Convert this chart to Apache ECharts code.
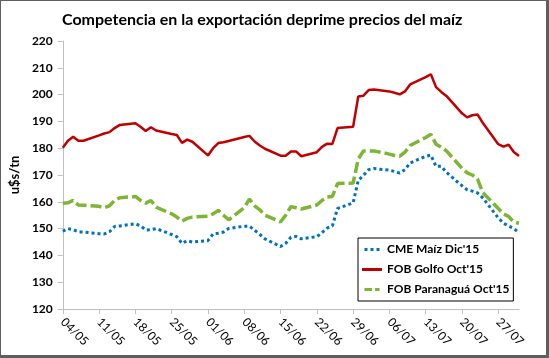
<!DOCTYPE html>
<html><head><meta charset="utf-8">
<script src="https://cdn.jsdelivr.net/npm/echarts@6/dist/echarts.min.js"></script>
<style>
html,body{margin:0;padding:0;background:#fff;}
#wrap{position:relative;width:549px;height:358px;}
#chart{position:absolute;left:0;top:0;width:549px;height:358px;}
#frame{position:absolute;left:0;top:0;width:549px;height:358px;box-sizing:border-box;border-style:solid;border-color:#5f5f5f;border-width:1px 3px 3px 1px;pointer-events:none;}
</style></head>
<body><div id="wrap"><div id="chart"></div><div id="frame"></div></div>
<script>
const dates = [
 "04/05","05/05","06/05","07/05","08/05","11/05","12/05","13/05","14/05","15/05",
 "18/05","19/05","20/05","21/05","22/05","25/05","26/05","27/05","28/05","29/05",
 "01/06","02/06","03/06","04/06","05/06","08/06","09/06","10/06","11/06","12/06",
 "15/06","16/06","17/06","18/06","19/06","22/06","23/06","24/06","25/06","26/06",
 "29/06","30/06","01/07","02/07","03/07","06/07","07/07","08/07","09/07","10/07",
 "13/07","14/07","15/07","16/07","17/07","20/07","21/07","22/07","23/07","24/07",
 "27/07","28/07","29/07","30/07","31/07"
];
const cmeMaiz = [
 149, 150, 149.6, 148.8, 148.7, 148.1, 148, 148.8, 150.8, 151,
 151.8, 151, 149.5, 149.6, 150, 147.8, 147, 144.5, 145.5, 145,
 145.5, 148, 148.3, 148.7, 150, 150.9, 150.9, 149.4, 147.8, 146.2,
 143.3, 144.5, 146.8, 147.1, 146.2, 147, 148.5, 150.2, 151, 157.5,
 159.6, 168, 169.9, 172, 172.4, 171.8, 171.3, 170.7, 172, 174.5,
 177, 177.4, 173.2, 173.3, 171, 166, 164.5, 164, 163.3, 161.5,
 154, 152, 151, 150, 148.5
];
const fobGolfo = [
 180.2, 182.8, 184.3, 182.8, 182.8, 184.8, 185.5, 186, 187.5, 188.7,
 189.3, 188, 186.4, 187.8, 186.6, 185.3, 184.9, 182, 183.2, 182.4,
 177.3, 180, 181.9, 182.2, 182.7, 184.2, 184.6, 182.5, 181, 179.8,
 177.2, 177.2, 178.8, 178.8, 177, 178.5, 180.5, 181.7, 181.6, 187.5,
 188, 199.3, 199.6, 201.7, 201.9, 201.2, 200.7, 200.1, 201.2, 203.8,
 206.5, 207.6, 202.8, 201, 199.5, 193, 191.5, 192.3, 192.6, 189.5,
 181.5, 180.6, 181.3, 178.6, 177.1
];
const fobParanagua = [
 159.5, 159.6, 160.5, 158.8, 158.7, 158.3, 157.8, 158.5, 160.5, 161.5,
 162, 160.5, 159.5, 160.5, 158, 155.5, 154.3, 152.8, 153.8, 154.3,
 154.6, 155.5, 156.8, 155, 153.3, 157.8, 161, 158.5, 157, 155,
 152.5, 155, 158.2, 157.8, 157.3, 158.8, 160.5, 161.8, 162, 166.8,
 167, 176, 179, 179, 179, 177.8, 177.3, 177, 178.5, 181,
 184, 185.2, 181.5, 180.4, 179, 172.5, 170.8, 170, 168.5, 163.5,
 157.5, 155.5, 154.5, 152.5, 152
];
const tickLabels = ["04/05","11/05","18/05","25/05","01/06","08/06","15/06","22/06","29/06","06/07","13/07","20/07","27/07"];
const seriesNames = ["CME Maíz Dic'15","FOB Golfo Oct'15","FOB Paranaguá Oct'15"];
const lastDate = "31/07";

function dayOffset(s){
  const [d,m] = s.split('/').map(Number);
  const base = Date.UTC(2015,4,4);
  return Math.round((Date.UTC(2015,m-1,d)-base)/86400000);
}
const tickDays = tickLabels.map(dayOffset);
const toPts = vals => dates.map((d,i)=>[dayOffset(d), vals[i]]);
const FONT = 'Lato';
const BLUE = '#0070C0', RED = '#C00000', GREEN = '#7DB534';

const chart = echarts.init(document.getElementById('chart'), null, {renderer:'canvas'});
chart.setOption({
  backgroundColor:'#fff',
  animation:false,
  title:{text:'Competencia en la exportación deprime precios del maíz', left:57, top:7,
    textStyle:{fontFamily:FONT, fontWeight:'bold', fontSize:16, color:'#000'}},
  grid:{left:61, right:30, top:41, bottom:49, containLabel:false},
  legend:{orient:'vertical', left:358, top:238, itemWidth:20, itemHeight:3, itemGap:5,
    padding:[4,4,4,4], backgroundColor:'#fff', borderColor:'#000', borderWidth:1, borderRadius:0,
    textStyle:{fontFamily:FONT, fontWeight:'bold', fontSize:12, color:'#000', lineHeight:15},
    data:[
      {name:seriesNames[0], icon:'path://M0,0h4v4h-4zM8,0h4v4h-4zM16,0h4v4h-4z', itemStyle:{color:BLUE}},
      {name:seriesNames[1], icon:'rect', itemStyle:{color:RED}},
      {name:seriesNames[2], icon:'path://M0,0h10v4h-10zM14,0h6v4h-6z', itemStyle:{color:GREEN}}
    ]},
  xAxis:{type:'value', min:0, max:dayOffset(lastDate),
    axisLine:{lineStyle:{color:'#bfbfbf', width:1}},
    axisTick:{show:true, length:5, inside:false, customValues:tickDays, lineStyle:{color:'#bfbfbf'}},
    axisLabel:{customValues:tickDays, rotate:-45, margin:11, fontFamily:FONT, fontSize:12, color:'#000',
      formatter:v=>{const i=tickDays.indexOf(v); return i>=0?tickLabels[i]:'';}},
    splitLine:{show:false}},
  yAxis:{type:'value', min:120, max:220, interval:10, name:'u$s/tn', nameLocation:'middle', nameGap:36,
    nameTextStyle:{fontFamily:FONT, fontWeight:'bold', fontSize:13, color:'#000'},
    axisLine:{show:true, lineStyle:{color:'#bfbfbf', width:1}},
    axisTick:{show:true, length:5, lineStyle:{color:'#bfbfbf'}},
    axisLabel:{margin:10, fontFamily:FONT, fontWeight:'bold', fontSize:12, color:'#000'},
    splitLine:{show:false}},
  series:[
    {name:seriesNames[0], type:'line', data:toPts(cmeMaiz), showSymbol:false, symbol:'none',
      lineStyle:{color:BLUE, width:3, type:[3,3]}, itemStyle:{color:BLUE}},
    {name:seriesNames[1], type:'line', data:toPts(fobGolfo), showSymbol:false, symbol:'none',
      lineStyle:{color:RED, width:2.5, type:'solid'}, itemStyle:{color:RED}},
    {name:seriesNames[2], type:'line', data:toPts(fobParanagua), showSymbol:false, symbol:'none',
      lineStyle:{color:GREEN, width:3.5, type:[11,4]}, itemStyle:{color:GREEN}}
  ]
});
</script></body></html>
